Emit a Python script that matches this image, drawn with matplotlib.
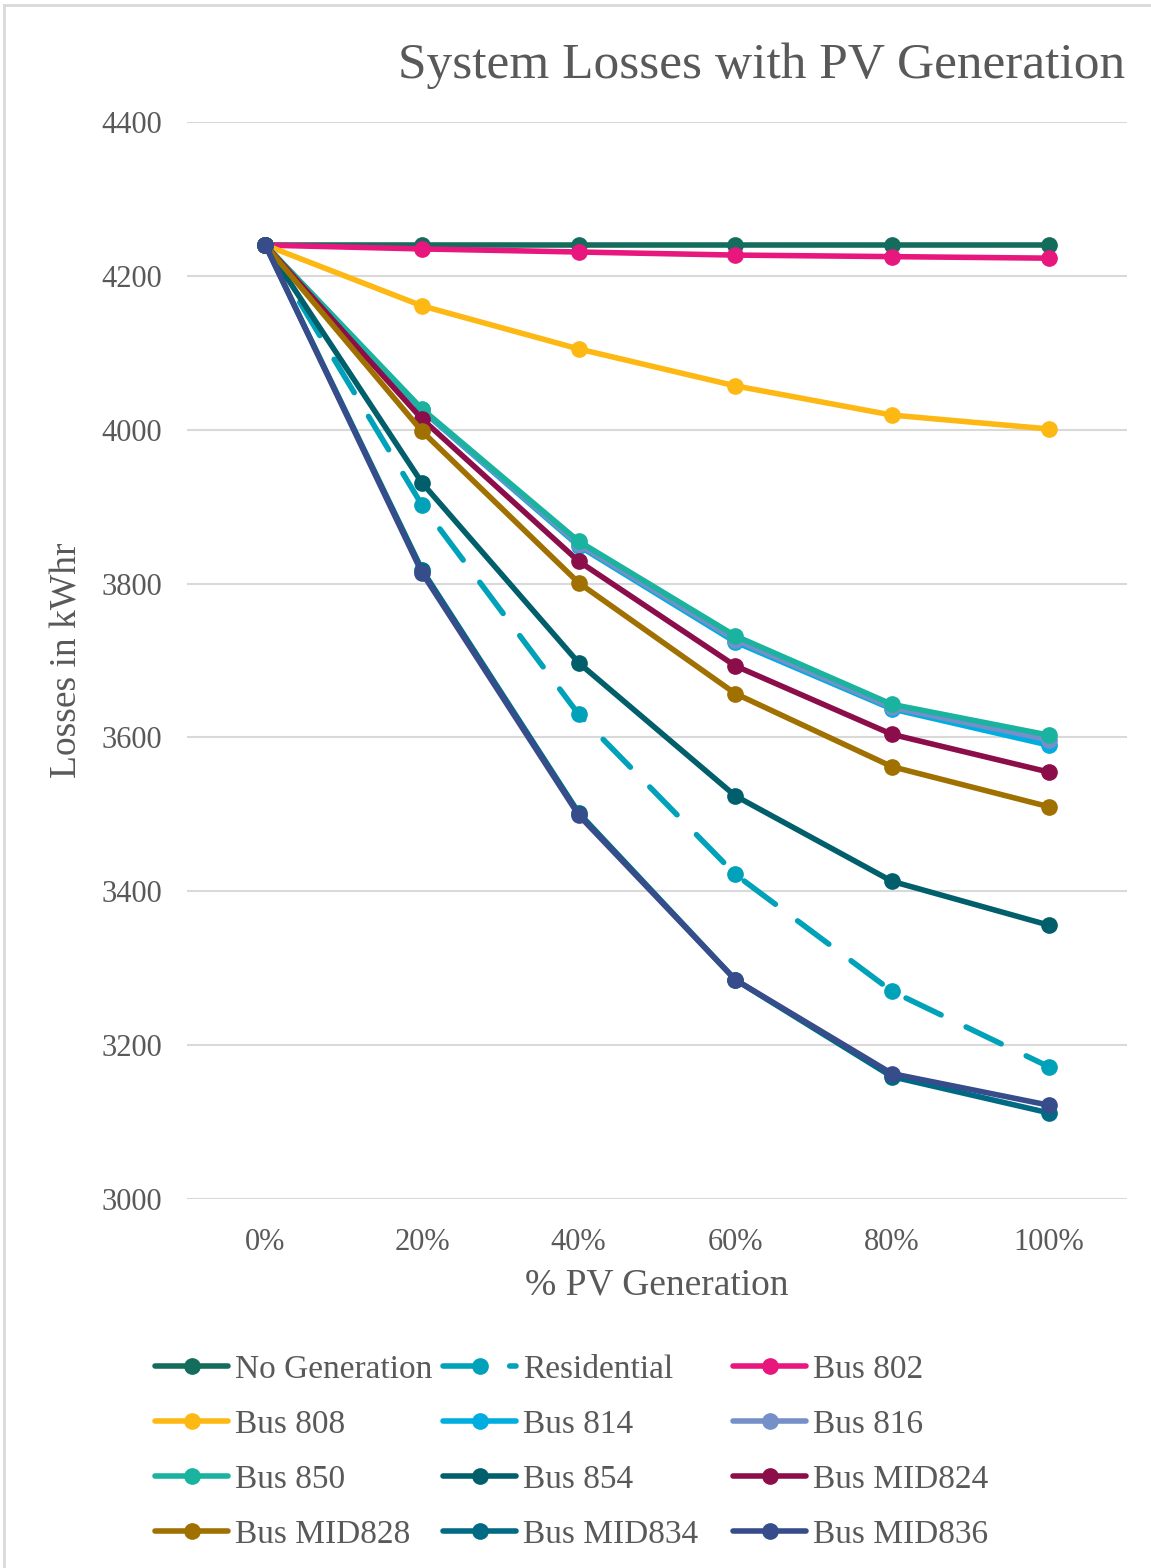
import numpy as np
import matplotlib.pyplot as plt
from matplotlib.lines import Line2D

# data
pv_levels = ['0%', '20%', '40%', '60%', '80%', '100%']

no_gen      = [4240, 4240, 4240, 4240, 4240, 4240]
residential = [4240, 3902, 3630, 3422, 3270, 3172]
bus_802     = [4240, 4235, 4231, 4227, 4225, 4223]
bus_808     = [4240, 4161, 4105, 4057, 4019, 4001]
bus_814     = [4240, 4025, 3849, 3724, 3637, 3590]
bus_816     = [4240, 4026, 3851, 3727, 3639, 3597]
bus_850     = [4240, 4027, 3855, 3732, 3643, 3603]
bus_854     = [4240, 3931, 3697, 3524, 3413, 3356]
bus_mid824  = [4240, 4014, 3829, 3693, 3604, 3555]
bus_mid828  = [4240, 3998, 3801, 3657, 3562, 3510]
bus_mid834  = [4240, 3818, 3502, 3285, 3159, 3112]
bus_mid836  = [4240, 3814, 3499, 3285, 3163, 3122]

names = ['No Generation', 'Residential', 'Bus 802', 'Bus 808', 'Bus 814', 'Bus 816',
         'Bus 850', 'Bus 854', 'Bus MID824', 'Bus MID828', 'Bus MID834', 'Bus MID836']
series = [no_gen, residential, bus_802, bus_808, bus_814, bus_816,
          bus_850, bus_854, bus_mid824, bus_mid828, bus_mid834, bus_mid836]
colors = ['#146C5C', '#00A2BA', '#E8177D', '#FDB813', '#00ADE0', '#7590C8',
          '#1AB39F', '#005F6B', '#8B0E4A', '#A07000', '#006A85', '#374C8A']

txt = '#595959'
plt.rcParams['font.family'] = ['Liberation Serif', 'DejaVu Serif']

fig = plt.figure(figsize=(11.51, 15.68), dpi=100)
ax = fig.add_axes([187/1151, 1 - 1199/1568, (1127-187)/1151, (1199-122)/1568])

x = np.arange(len(pv_levels))
handles = []
for name, vals, c in zip(names, series, colors):
    ls = (0, (7, 5)) if name == 'Residential' else '-'
    h, = ax.plot(x, vals, color=c, lw=4, ls=ls, marker='o', markersize=11,
                 solid_capstyle='round', dash_capstyle='round', label=name)
    handles.append(h)

ax.set_xlim(-0.5, 5.5)
ax.set_ylim(3000, 4400)
ax.set_yticks(np.arange(3000, 4401, 200))
ax.set_xticks(x)
ax.set_xticklabels(pv_levels)
ax.grid(axis='y', color='#D9D9D9', lw=1.5)
ax.set_axisbelow(True)
for s in ax.spines.values():
    s.set_visible(False)
ax.tick_params(length=0, labelsize=22, colors=txt)
ax.tick_params(axis='y', pad=18)
ax.tick_params(axis='x', pad=21)

ax.set_xlabel('% PV Generation', fontsize=27, color=txt, labelpad=8)
ax.set_ylabel('Losses in kWhr', fontsize=27, color=txt, labelpad=12)

fig.text(1125/1151, 1 - 66/1568, 'System Losses with PV Generation', fontsize=37,
         color=txt, ha='right', va='center')

# legend: three columns of four rows
col_x = [155/1151, 443/1151, 733/1151]
for i in range(3):
    hs = handles[i::3]
    leg = fig.legend(handles=hs, labels=[h.get_label() for h in hs],
                     loc='upper left', bbox_to_anchor=(col_x[i], 1 - 1354/1568),
                     frameon=False, fontsize=24, handlelength=2.2, handletextpad=0.2,
                     labelspacing=0.74, borderpad=0, borderaxespad=0)
    for t in leg.get_texts():
        t.set_color(txt)

# thin frame around the chart
fig.add_artist(Line2D([4/1151, 4/1151], [0, 1 - 5/1568], color='#D9D9D9', lw=2))
fig.add_artist(Line2D([4/1151, 1], [1 - 5/1568, 1 - 5/1568], color='#D9D9D9', lw=2))

fig.savefig('out.png', dpi=100)
